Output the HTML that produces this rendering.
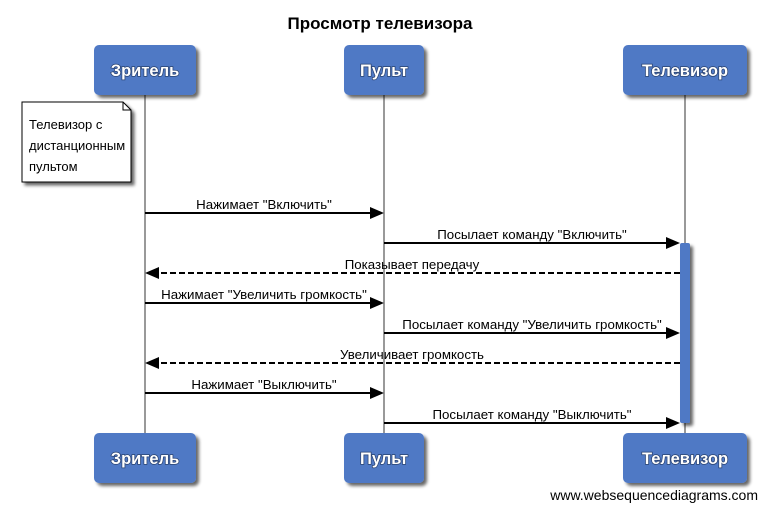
<!DOCTYPE html>
<html><head><meta charset="utf-8"><style>
body{margin:0;background:#fff;width:759px;height:504px;overflow:hidden}
text{font-family:"Liberation Sans",sans-serif}
</style></head><body>
<svg width="759" height="504" viewBox="0 0 759 504" xmlns="http://www.w3.org/2000/svg">
<defs>
<filter id="sh" x="-20%" y="-20%" width="150%" height="160%"><feGaussianBlur in="SourceAlpha" stdDeviation="1.5"/><feOffset dx="3" dy="3"/><feComponentTransfer><feFuncA type="linear" slope="0.6"/></feComponentTransfer><feMerge><feMergeNode/><feMergeNode in="SourceGraphic"/></feMerge></filter>
</defs>
<text x="380" y="29" text-anchor="middle" font-size="17" font-weight="bold">Просмотр телевизора</text>
<g stroke="#999" stroke-width="2">
<line x1="145" y1="95" x2="145" y2="433"/>
<line x1="384" y1="95" x2="384" y2="433"/>
<line x1="685" y1="95" x2="685" y2="433"/>
</g>
<g filter="url(#sh)" fill="#4f79c5">
<rect x="94" y="45" width="102" height="50" rx="5"/>
<rect x="344" y="45" width="80" height="50" rx="5"/>
<rect x="623" y="45" width="124" height="50" rx="5"/>
<rect x="94" y="433" width="102" height="50" rx="5"/>
<rect x="344" y="433" width="80" height="50" rx="5"/>
<rect x="623" y="433" width="124" height="50" rx="5"/>
<rect x="680" y="243" width="10" height="180" rx="2"/>
</g>
<g fill="#fff" font-size="16.5" font-weight="bold" text-anchor="middle" style="paint-order:stroke" stroke="#2a4270" stroke-width="1.5">
<text x="145" y="76">Зритель</text>
<text x="384" y="76">Пульт</text>
<text x="685" y="76">Телевизор</text>
<text x="145" y="464">Зритель</text>
<text x="384" y="464">Пульт</text>
<text x="685" y="464">Телевизор</text>
</g>
<g filter="url(#sh)">
<path d="M22 102 H123 L131 110 V182 H22 Z" fill="#fff" stroke="#000" stroke-width="1"/>
</g>
<path d="M123 102 V110 H131" fill="none" stroke="#000" stroke-width="1"/>
<g font-size="13">
<text x="29" y="129">Телевизор с</text>
<text x="29" y="150">дистанционным</text>
<text x="29" y="171">пультом</text>
</g>
<g stroke="#000" stroke-width="2" fill="none">
<line x1="145" y1="213" x2="370" y2="213"/>
<line x1="384" y1="243" x2="667" y2="243"/>
<line x1="680" y1="273" x2="160" y2="273" stroke-dasharray="6,3"/>
<line x1="145" y1="303" x2="370" y2="303"/>
<line x1="384" y1="333" x2="667" y2="333"/>
<line x1="680" y1="363" x2="160" y2="363" stroke-dasharray="6,3"/>
<line x1="145" y1="393" x2="370" y2="393"/>
<line x1="384" y1="423" x2="667" y2="423"/>
</g>
<g fill="#000">
<path d="M384 213 L370 207 V219 Z"/>
<path d="M680 243 L666 237 V249 Z"/>
<path d="M145 273 L159 267 V279 Z"/>
<path d="M384 303 L370 297 V309 Z"/>
<path d="M680 333 L666 327 V339 Z"/>
<path d="M145 363 L159 357 V369 Z"/>
<path d="M384 393 L370 387 V399 Z"/>
<path d="M680 423 L666 417 V429 Z"/>
</g>
<g font-size="13.3" text-anchor="middle">
<text x="264" y="209">Нажимает "Включить"</text>
<text x="532" y="239">Посылает команду "Включить"</text>
<text x="412" y="269">Показывает передачу</text>
<text x="264" y="299">Нажимает "Увеличить громкость"</text>
<text x="532" y="329">Посылает команду "Увеличить громкость"</text>
<text x="412" y="359">Увеличивает громкость</text>
<text x="264" y="389">Нажимает "Выключить"</text>
<text x="532" y="419">Посылает команду "Выключить"</text>
</g>
<text x="758" y="500" text-anchor="end" font-size="14">www.websequencediagrams.com</text>
</svg>
</body></html>
